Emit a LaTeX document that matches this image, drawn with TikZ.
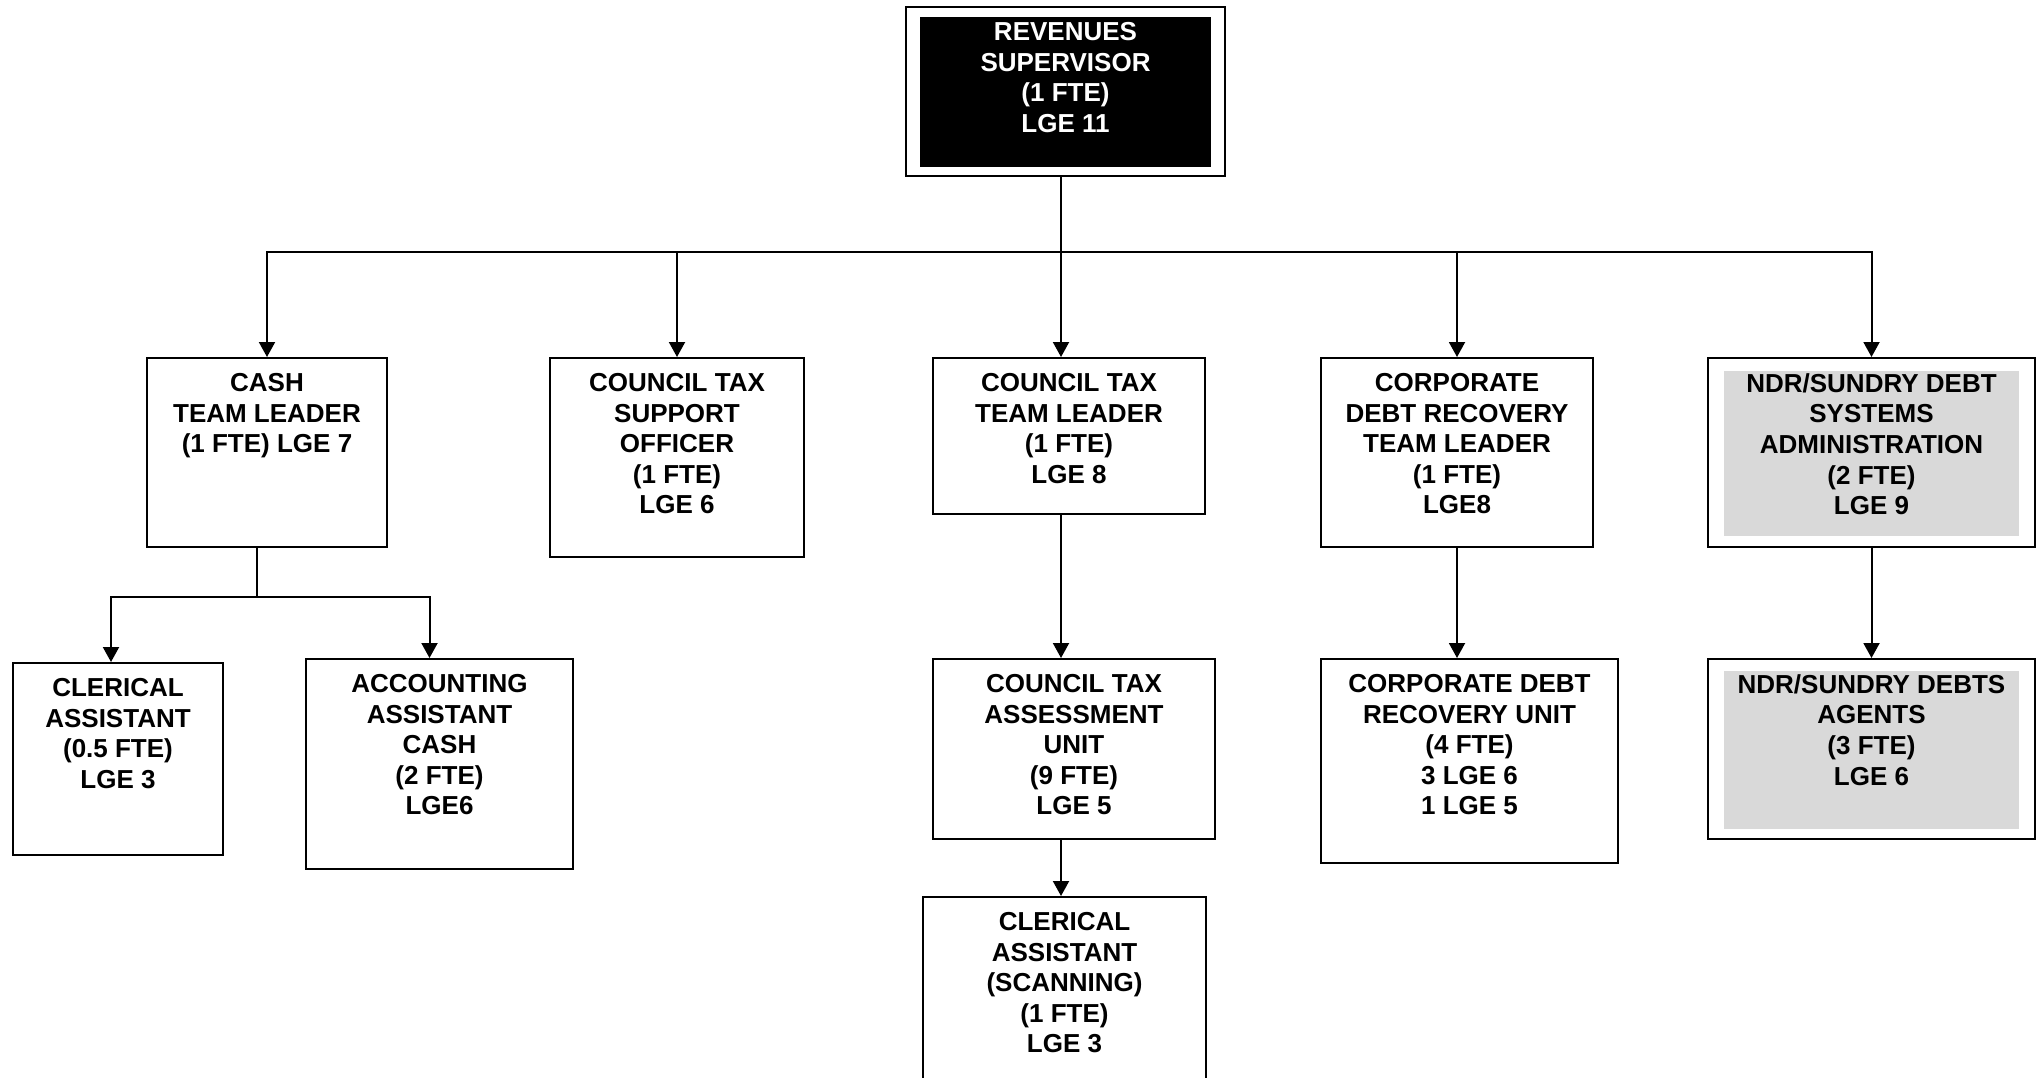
\documentclass[tikz,border=0pt]{standalone}
\usepackage{fontspec}
\setmainfont{Liberation Sans}
\usetikzlibrary{positioning, arrows.meta}
\definecolor{panel}{HTML}{D9D9D9}

\begin{document}
\begin{tikzpicture}[x=0.5pt, y=-0.5pt,
  box/.style={draw, line width=1pt, anchor=north west, inner sep=0pt},
  role/.style={font=\fontsize{13}{15.3}\selectfont\bfseries, align=center, inner sep=0pt},
  link/.style={line width=1pt, -{Triangle[width=8pt,length=7.5pt]}}]
  \useasboundingbox (0,0) rectangle (2038,1077);

  % Top
  \node[box, minimum width=159.5pt, minimum height=84.5pt] (sup) at (905,6) {};
  \node[box, fill=black, minimum width=144.5pt, minimum height=74pt] (supin) at (920,17) {};
  \node[role, text=white, below=2.5pt of supin.north] (suptext) {REVENUES\\SUPERVISOR\\(1 FTE)\\LGE 11};

  % First row
  \node[box, minimum width=120pt, minimum height=94.5pt] (cash) at (146,357) {};
  \node[role, below=8pt of cash.north] (cashtext) {CASH\\TEAM LEADER\\(1 FTE) LGE 7};
  \node[box, minimum width=127pt, minimum height=99.5pt] (ctso) at (549,357) {};
  \node[role, below=8pt of ctso.north] (ctsotext) {COUNCIL TAX\\SUPPORT\\OFFICER\\(1 FTE)\\LGE 6};
  \node[box, minimum width=136pt, minimum height=78pt] (cttl) at (932,357) {};
  \node[role, below=8pt of cttl.north] (cttltext) {COUNCIL TAX\\TEAM LEADER\\(1 FTE)\\LGE 8};
  \node[box, minimum width=136pt, minimum height=94.5pt] (cdrtl) at (1320,357) {};
  \node[role, below=8pt of cdrtl.north] (cdrtltext) {CORPORATE\\DEBT RECOVERY\\TEAM LEADER\\(1 FTE)\\LGE8};
  \node[box, minimum width=163.5pt, minimum height=94.5pt] (ndrsys) at (1707,357) {};
  \node[box, draw=none, fill=panel, minimum width=147.5pt, minimum height=82.5pt] (ndrsysin) at (1723,370) {};
  \node[role, below=8pt of ndrsys.north] (ndrsystext) {NDR/SUNDRY DEBT\\SYSTEMS\\ADMINISTRATION\\(2 FTE)\\LGE 9};

  % Second row
  \node[box, minimum width=105pt, minimum height=96pt] (cler) at (12,662) {};
  \node[role, below=8pt of cler.north] (clertext) {CLERICAL\\ASSISTANT\\(0.5 FTE)\\LGE 3};
  \node[box, minimum width=133.5pt, minimum height=105pt] (acct) at (305,658) {};
  \node[role, below=8pt of acct.north] (accttext) {ACCOUNTING\\ASSISTANT\\CASH\\(2 FTE)\\LGE6};
  \node[box, minimum width=141pt, minimum height=90pt] (ctau) at (932,658) {};
  \node[role, below=8pt of ctau.north] (ctautext) {COUNCIL TAX\\ASSESSMENT\\UNIT\\(9 FTE)\\LGE 5};
  \node[box, minimum width=148.5pt, minimum height=102pt] (cdru) at (1320,658) {};
  \node[role, below=8pt of cdru.north] (cdrutext) {CORPORATE DEBT\\RECOVERY UNIT\\(4 FTE)\\3 LGE 6\\1 LGE 5};
  \node[box, minimum width=163.5pt, minimum height=90pt] (ndrag) at (1707,658) {};
  \node[box, draw=none, fill=panel, minimum width=147.5pt, minimum height=79pt] (ndragin) at (1723,670) {};
  \node[role, below=8pt of ndrag.north] (ndragtext) {NDR/SUNDRY DEBTS\\AGENTS\\(3 FTE)\\LGE 6};

  % Third row
  \node[box, minimum width=141.5pt, minimum height=95pt] (scan) at (922,896) {};
  \node[role, below=8pt of scan.north] (scantext) {CLERICAL\\ASSISTANT\\(SCANNING)\\(1 FTE)\\LGE 3};

  % Connectors
  \coordinate (busmid) at (1061,252);
  \coordinate (cashjoin) at (257,597);
  \draw[line width=1pt] (sup.south -| busmid) -- (busmid);
  \foreach \n in {cash, ctso, cdrtl, ndrsys}
    \draw[link] (busmid) -| (\n.north);
  \draw[link] (busmid) -- (busmid |- cttl.north);
  \draw[line width=1pt] (cash.south -| cashjoin) -- (cashjoin);
  \draw[link] (cashjoin) -| ([xshift=-3.5pt]cler.north);
  \draw[link] (cashjoin) -| ([xshift=-5pt]acct.north);
  \draw[link] (busmid |- cttl.south) -- (busmid |- ctau.north);
  \draw[link] (busmid |- ctau.south) -- (busmid |- scan.north);
  \draw[link] (cdrtl.south) -- (cdrtl.south |- cdru.north);
  \draw[link] (ndrsys.south) -- (ndrag.north);
\end{tikzpicture}
\end{document}
